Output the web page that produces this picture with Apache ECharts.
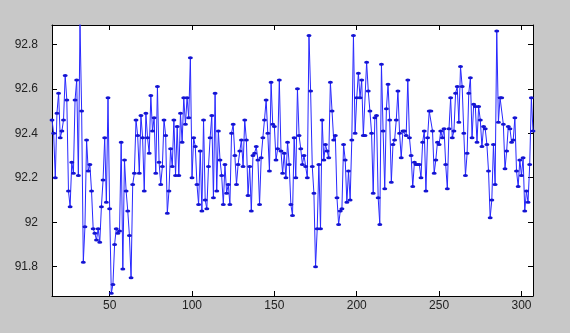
<!DOCTYPE html>
<html><head><meta charset="utf-8">
<script src="https://cdn.jsdelivr.net/npm/echarts@6/dist/echarts.min.js"></script>
<style>html,body{margin:0;padding:0;background:#c8c8c8}#c{width:570px;height:333px}</style>
</head><body><div id="c"></div>
<script>
// first sample index on the x axis
const xStart = 15;
// samples 15..74
const valuesA = [92.46,92.40,92.20,92.49,92.58,92.38,92.41,92.46,92.66,92.55,
  92.14,92.07,92.27,92.22,92.55,92.64,92.21,92.89,92.50,91.82,
  91.98,92.37,92.23,92.26,92.14,91.97,91.95,91.92,91.97,91.91,
  92.07,92.19,92.38,92.09,92.56,92.06,91.68,91.72,91.90,91.97,
  91.95,91.96,92.36,91.79,92.28,92.14,92.05,91.94,91.75,92.17,
  92.22,92.46,92.39,92.22,92.48,92.38,92.14,92.49,92.38,92.31];
// samples 75..132
const valuesB = [92.57,92.41,92.47,92.22,92.61,92.27,92.17,92.25,92.46,92.39,
  92.04,92.14,92.33,92.25,92.46,92.21,92.43,92.21,92.49,92.36,
  92.56,92.44,92.56,92.47,92.74,92.20,92.38,92.34,92.17,92.08,
  92.32,92.05,92.46,92.10,92.06,92.25,92.38,92.48,92.11,92.58,
  92.14,92.41,92.28,92.21,92.08,92.26,92.13,92.17,92.08,92.40,
  92.44,92.30,92.17,92.26,92.32,92.37,92.25,92.46];
// samples 133..189
const valuesC = [92.37,92.12,92.25,92.05,92.30,92.31,92.34,92.28,92.08,92.29,
  92.38,92.46,92.55,92.40,92.23,92.63,92.44,92.43,92.28,92.33,
  92.64,92.32,92.22,92.31,92.20,92.36,92.26,92.08,92.03,92.38,
  92.20,92.60,92.39,92.33,92.26,92.30,92.25,92.20,92.84,92.59,
  92.25,92.13,91.80,91.97,92.26,91.97,92.46,92.28,92.35,92.32,
  92.29,92.63,92.50,92.37,92.39,92.11,91.99];
// samples 190..247
const valuesD = [92.05,92.06,92.35,92.28,92.09,92.23,92.10,92.37,92.84,92.40,
  92.56,92.67,92.56,92.64,92.39,92.39,92.72,92.59,92.50,92.40,
  92.13,92.47,92.48,92.11,91.99,92.71,92.41,92.15,92.51,92.62,
  92.46,92.18,92.35,92.37,92.46,92.59,92.40,92.29,92.41,92.41,
  92.39,92.64,92.38,92.30,92.16,92.27,92.26,92.26,92.26,92.20,
  92.36,92.41,92.14,92.38,92.50,92.50,92.41,92.22];
// samples 248..307
const valuesE = [92.28,92.36,92.35,92.41,92.38,92.42,92.26,92.15,92.42,92.56,
  92.38,92.41,92.58,92.61,92.45,92.70,92.61,92.40,92.21,92.31,
  92.58,92.65,92.38,92.53,92.52,92.36,92.52,92.46,92.34,92.43,
  92.42,92.35,92.23,92.02,92.10,92.35,92.17,92.86,92.45,92.56,
  92.56,92.44,92.24,92.32,92.43,92.42,92.36,92.37,92.47,92.23,
  92.16,92.28,92.21,92.29,92.05,92.14,92.09,92.26,92.56,92.41];
const xTicks = [50, 100, 150, 200, 250, 300];
const yTicks = [91.8, 92, 92.2, 92.4, 92.6, 92.8];
const xRange = [15, 307];
const yRange = [91.668, 92.887];

const values = valuesA.concat(valuesB, valuesC, valuesD, valuesE);
const points = values.map((v, i) => [xStart + i, v]);

const font = 'Liberation Sans, Arial, sans-serif';
function xAx(pos, showLabel) {
  return {
    type: 'value', position: pos, min: xRange[0], max: xRange[1],
    axisLine: {show: true, onZero: false, lineStyle: {color: '#000', width: 1}},
    axisTick: {show: true, inside: true, length: 5, customValues: xTicks, lineStyle: {color: '#000'}},
    axisLabel: {show: showLabel, customValues: xTicks, margin: 4, color: '#222', fontSize: 12, fontFamily: font},
    splitLine: {show: false}
  };
}
function yAx(pos, showLabel) {
  return {
    type: 'value', position: pos, min: yRange[0], max: yRange[1],
    axisLine: {show: true, onZero: false, lineStyle: {color: '#000', width: 1}},
    axisTick: {show: true, inside: true, length: 5, customValues: yTicks, lineStyle: {color: '#000'}},
    axisLabel: {show: showLabel, customValues: yTicks, margin: 14, color: '#222', fontSize: 12, fontFamily: font,
      formatter: v => String(v)},
    splitLine: {show: false}
  };
}
const chart = echarts.init(document.getElementById('c'), null, {renderer: 'canvas'});
chart.setOption({
  animation: false,
  backgroundColor: '#c8c8c8',
  grid: {left: 52, right: 37, top: 25, bottom: 37, show: true, backgroundColor: '#fff', borderWidth: 0},
  xAxis: [xAx('bottom', true), xAx('top', false)],
  yAxis: [yAx('left', true), yAx('right', false)],
  series: [{
    type: 'line', data: points, xAxisIndex: 0, yAxisIndex: 0,
    symbol: 'circle', symbolSize: [5, 3], showAllSymbol: true,
    lineStyle: {color: '#2828ff', width: 1},
    itemStyle: {color: '#1414d2'},
    clip: true, z: 3
  }]
});
</script></body></html>
